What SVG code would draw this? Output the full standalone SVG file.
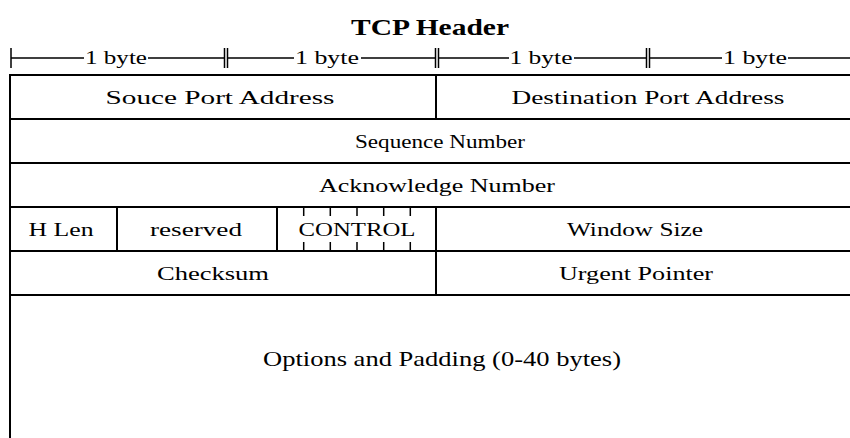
<svg xmlns="http://www.w3.org/2000/svg" width="850" height="438" viewBox="0 0 850 438">
<style>
.t{font-family:"Liberation Serif",serif;font-size:19px;fill:#000;text-anchor:middle}
.o{font-family:"Liberation Serif",serif;font-size:21px;fill:#000;text-anchor:middle}
.h{font-family:"Liberation Serif",serif;font-size:24px;font-weight:bold;fill:#000;text-anchor:middle}
.ln{stroke:#000;stroke-width:2;fill:none}
.tk{stroke:#000;stroke-width:1.5;fill:none}
</style>
<rect width="850" height="438" fill="#fff"/>
<text class="h" x="430" y="35" textLength="158" lengthAdjust="spacingAndGlyphs">TCP Header</text>
<g id="ruler">
<path class="tk" d="M11 48V68M224.5 48V68M227.5 48V68M435.5 48V68M438.5 48V68M646.5 48V68M649.5 48V68"/>
<path class="tk" d="M11 58H84M148 58H224M228 58H294M361 58H435M439 58H509M574 58H646M650 58H722M788 58H850"/>
<text class="t" x="116" y="64" textLength="62" lengthAdjust="spacingAndGlyphs">1 byte</text>
<text class="t" x="327" y="64" textLength="64" lengthAdjust="spacingAndGlyphs">1 byte</text>
<text class="t" x="541" y="64" textLength="63" lengthAdjust="spacingAndGlyphs">1 byte</text>
<text class="t" x="755" y="64" textLength="64" lengthAdjust="spacingAndGlyphs">1 byte</text>
</g>
<g id="table">
<path class="ln" d="M10 75H850M10 119H850M10 163H850M10 207H850M10 251H850M10 295H850M10 74V438M436 75V119M436 207V295M117 207V251M277 207V251"/>
</g>
<g id="control-ticks">
<path class="tk" d="M303.7 207V216M330.3 207V216M357 207V216M383.7 207V216M410.3 207V216M303.7 242V251M330.3 242V251M357 242V251M383.7 242V251M410.3 242V251"/>
</g>
<g id="fields">
<text class="t" x="220" y="104" textLength="229" lengthAdjust="spacingAndGlyphs">Souce Port Address</text>
<text class="t" x="648" y="104" textLength="273" lengthAdjust="spacingAndGlyphs">Destination Port Address</text>
<text class="t" x="440" y="148" textLength="170" lengthAdjust="spacingAndGlyphs">Sequence Number</text>
<text class="t" x="437" y="192" textLength="236" lengthAdjust="spacingAndGlyphs">Acknowledge Number</text>
<text class="t" x="61" y="236" textLength="65" lengthAdjust="spacingAndGlyphs">H Len</text>
<text class="t" x="196" y="236" textLength="92" lengthAdjust="spacingAndGlyphs">reserved</text>
<text class="t" x="357" y="236" textLength="117" lengthAdjust="spacingAndGlyphs">CONTROL</text>
<text class="t" x="635" y="236" textLength="136" lengthAdjust="spacingAndGlyphs">Window Size</text>
<text class="t" x="213" y="280" textLength="112" lengthAdjust="spacingAndGlyphs">Checksum</text>
<text class="t" x="636" y="280" textLength="154" lengthAdjust="spacingAndGlyphs">Urgent Pointer</text>
<text class="o" x="442" y="366" textLength="358" lengthAdjust="spacingAndGlyphs">Options and Padding (0-40 bytes)</text>
</g>
</svg>
